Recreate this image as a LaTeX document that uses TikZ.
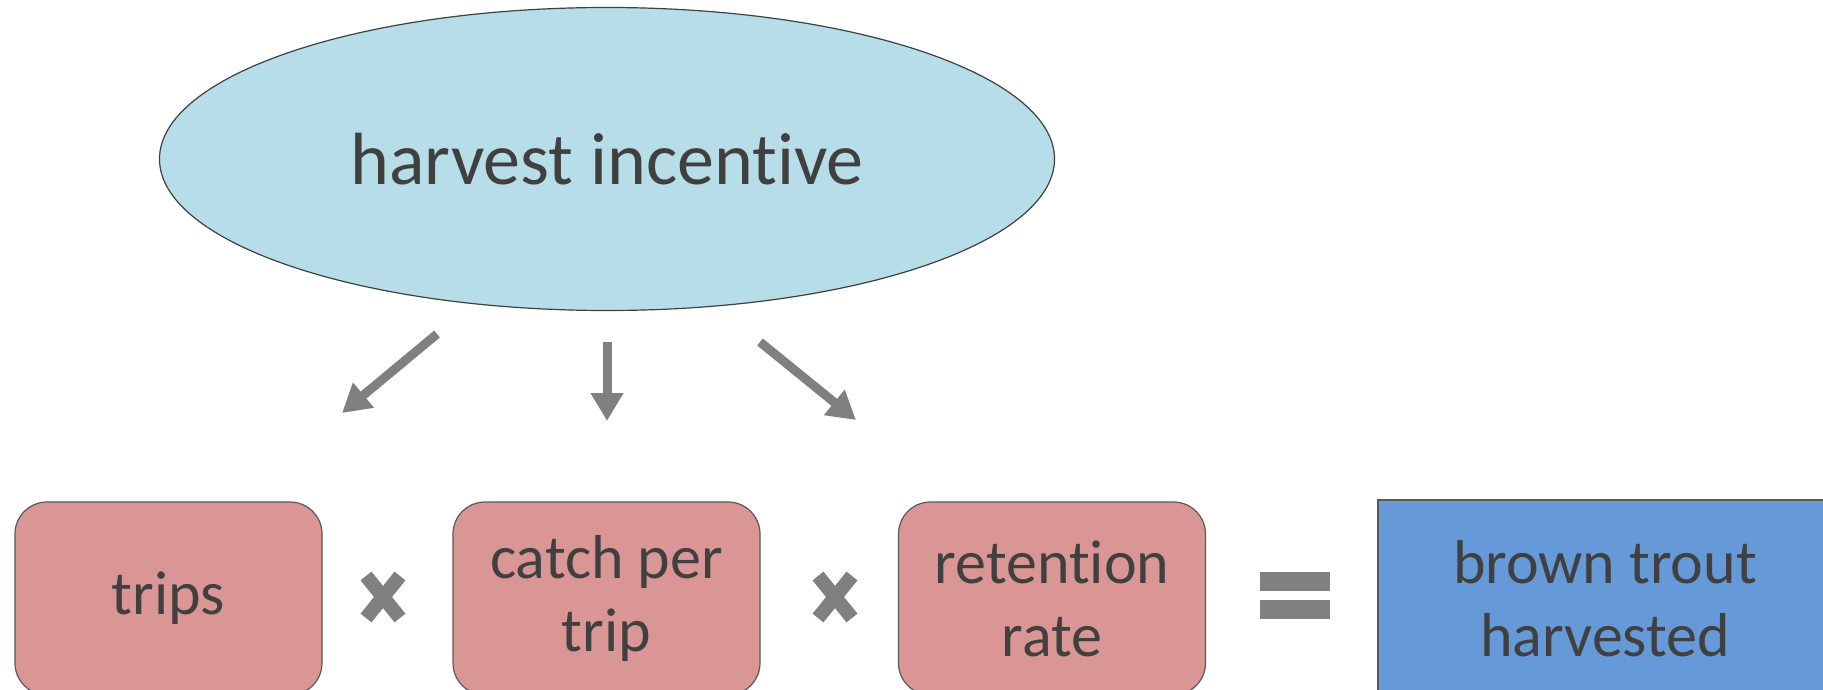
\documentclass[tikz,border=0pt]{standalone}
\usepackage{fontspec}
\setmainfont{Carlito}[Ligatures={NoCommon}]
\usetikzlibrary{shapes.geometric,arrows.meta}
\definecolor{incentiveblue}{HTML}{B7DDE8}
\definecolor{factorpink}{HTML}{D99694}
\definecolor{resultblue}{HTML}{6699D8}
\definecolor{textgray}{HTML}{404040}
\definecolor{edgegray}{HTML}{595959}
\definecolor{opgray}{HTML}{808080}
\begin{document}
\begin{tikzpicture}[x=1pt, y=-1pt,
    factor/.style={draw=edgegray, line width=1.2pt, fill=factorpink, rounded corners=32pt,
        minimum width=307pt, minimum height=193pt, inner sep=0pt, align=center,
        text=textgray, font=\fontsize{62pt}{73pt}\selectfont},
    bigarrow/.style={draw=opgray, line width=9pt, -{Triangle[length=28pt,width=31pt]}},
    timesbar/.style={draw=opgray, line width=14pt}]
    \clip (0,0) rectangle (1823,690);

    % Driver at the top
    \node[draw=textgray, line width=1.2pt, ellipse, fill=incentiveblue, inner sep=0pt,
        minimum width=895pt, minimum height=303pt, text=textgray,
        font=\fontsize{74pt}{88pt}\selectfont] (incentive) at (607,159) {harvest incentive};

    % Factors of the product
    \node[factor] (trips) at (168.5,598.5) {trips};
    \node[factor] (catch) at (606.5,598.5) {catch per\\trip};
    \node[factor] (retention) at (1052,598.5) {retention\\rate};

    % Result
    \node[draw=edgegray, line width=1.2pt, fill=resultblue, minimum width=454pt,
        minimum height=197pt, inner sep=0pt, align=center, text=textgray,
        font=\fontsize{62pt}{73pt}\selectfont] (harvested) at (1605,598.5) {brown trout\\harvested};

    % Arrows out of the driver
    \coordinate (tripsfrom) at (437,334);
    \coordinate (tripsto) at (342,413);
    \coordinate (catchfrom) at (607,342);
    \coordinate (catchto) at (607,421);
    \coordinate (retentionfrom) at (760,342);
    \coordinate (retentionto) at (856,420);
    \draw[bigarrow] (tripsfrom) -- (tripsto);
    \draw[bigarrow] (catchfrom) -- (catchto);
    \draw[bigarrow] (retentionfrom) -- (retentionto);

    % Times signs between the factors
    \foreach \cx in {383,835} {
        \draw[timesbar] ({\cx-17},576) -- ({\cx+17},618);
        \draw[timesbar] ({\cx+17},576) -- ({\cx-17},618);
    }

    % Equals sign
    \fill[opgray] (1260,572) rectangle (1330,591);
    \fill[opgray] (1260,600) rectangle (1330,619);
\end{tikzpicture}
\end{document}
